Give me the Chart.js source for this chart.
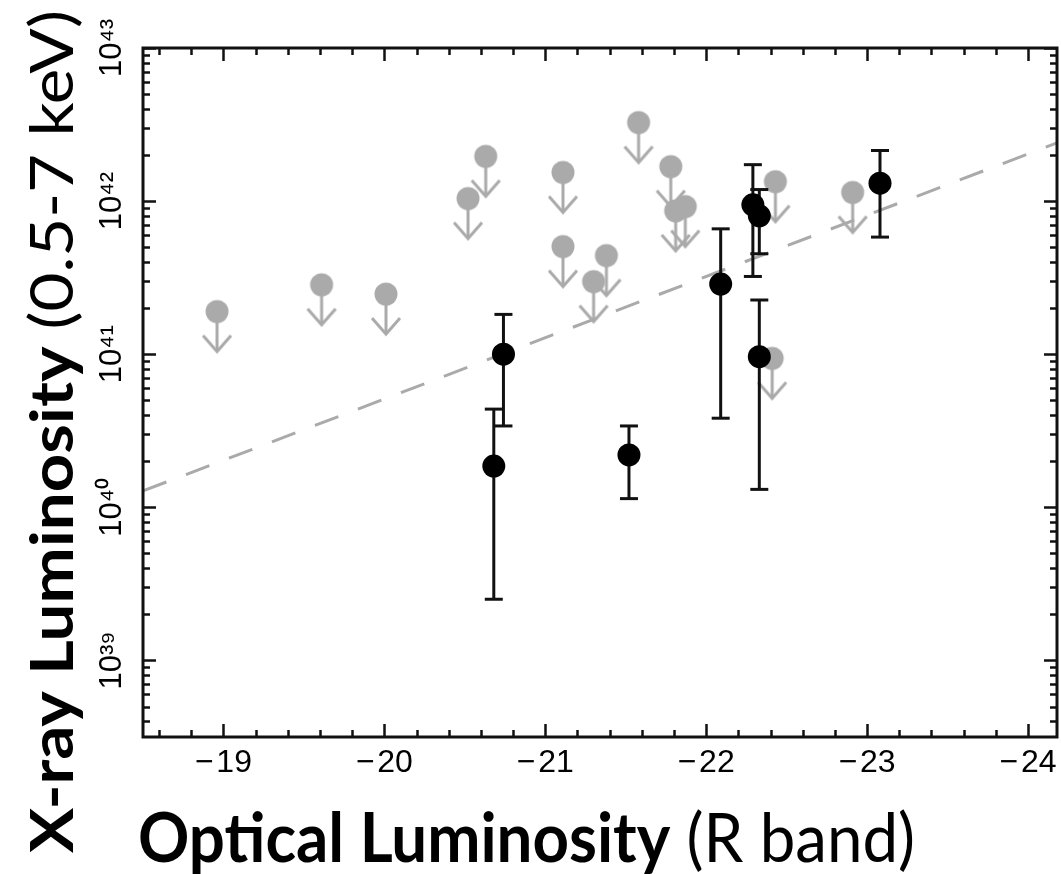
<!DOCTYPE html>
<html><head><meta charset="utf-8">
<script src="https://cdn.jsdelivr.net/npm/chart.js@4.4.1/dist/chart.umd.min.js"></script>
<style>html,body{margin:0;padding:0;background:#fff;}canvas{display:block;}</style>
</head><body>
<canvas id="c" width="1061" height="874"></canvas>
<script>
// ---- data ----
// upper limits (grey circles with arrows)
const limitMag = [-18.96, -19.61, -20.01, -20.52, -20.63, -21.11, -21.11, -21.30, -21.38, -21.58, -21.78, -21.81, -21.87, -22.41, -22.43, -22.91];
const limitLx  = [1.90e41, 2.84e41, 2.47e41, 1.04e42, 1.96e42, 1.54e42, 5.05e41, 2.98e41, 4.41e41, 3.26e42, 1.68e42, 8.64e41, 9.22e41, 9.4e40, 1.34e42, 1.14e42];
// detections (black circles with error bars)
const detMag    = [-20.68, -20.74, -21.52, -22.09, -22.29, -22.33, -22.33, -23.08];
const detLx     = [1.86e40, 1.00e41, 2.20e40, 2.87e41, 9.46e41, 8.02e41, 9.64e40, 1.31e42];
const detLxHigh = [4.38e40, 1.82e41, 3.40e40, 6.59e41, 1.73e42, 1.19e42, 2.26e41, 2.14e42];
const detLxLow  = [2.51e39, 3.40e40, 1.14e40, 3.82e40, 3.22e41, 4.53e41, 1.31e40, 5.82e41];
// dashed relation
const fitMag = [-18.5, -24.18];
const fitLx  = [1.28e40, 2.40e42];
// axes
const xTickValues = [-19, -20, -21, -22, -23, -24];
const yTickExponents = [39, 40, 41, 42, 43];
const xRange = [-24.18, -18.5];
const yRange = [3.162e38, 1e43];

const GREY = '#aaaaaa';
const BLACK = '#000000';

// grey marker: circle with downward arrow (symmetric canvas so circle is at the data point)
function makeLimitMarker() {
  const c = document.createElement('canvas');
  c.width = 34; c.height = 90;
  const g = c.getContext('2d');
  const cx = 17, cy = 45;
  g.strokeStyle = GREY; g.fillStyle = GREY; g.lineWidth = 3;
  g.beginPath(); g.moveTo(cx, cy); g.lineTo(cx, cy + 40); g.stroke();
  g.beginPath(); g.moveTo(cx - 14, cy + 24); g.lineTo(cx, cy + 40); g.lineTo(cx + 14, cy + 24); g.stroke();
  g.beginPath(); g.arc(cx, cy, 11.5, 0, Math.PI * 2); g.fill();
  return c;
}
const limitMarker = makeLimitMarker();

const SUP = {'0':'\u2070','1':'\u00B9','2':'\u00B2','3':'\u00B3','4':'\u2074','5':'\u2075','6':'\u2076','7':'\u2077','8':'\u2078','9':'\u2079'};
const sup = n => String(n).split('').map(ch => SUP[ch]).join('');

const datasets = [];
datasets.push({
  label: 'detections',
  data: detMag.map((m, i) => ({x: m, y: detLx[i]})),
  pointRadius: 11.5, pointBackgroundColor: BLACK, pointBorderWidth: 0, pointStyle: 'circle'
});
datasets.push({
  label: 'caps',
  data: detMag.flatMap((m, i) => [{x: m, y: detLxLow[i]}, {x: m, y: detLxHigh[i]}]),
  pointStyle: 'line', pointRadius: 9, pointBorderWidth: 3, pointBorderColor: '#111'
});
detMag.forEach((m, i) => {
  datasets.push({
    type: 'line', label: 'err' + i,
    data: [{x: m, y: detLxLow[i]}, {x: m, y: detLxHigh[i]}],
    showLine: true, borderColor: '#111', borderWidth: 3, pointRadius: 0, fill: false
  });
});
datasets.push({
  label: 'limits',
  data: limitMag.map((m, i) => ({x: m, y: limitLx[i]})),
  pointStyle: limitMarker, pointRadius: 12
});
datasets.push({
  type: 'line', label: 'relation',
  data: fitMag.map((m, i) => ({x: m, y: fitLx[i]})),
  showLine: true, borderColor: GREY, borderWidth: 3, borderDash: [25, 21], pointRadius: 0, fill: false
});

function drawParts(ctx, parts, targetWidth) {
  const widths = parts.map(p => { ctx.font = p.font; return ctx.measureText(p.text).width; });
  const total = widths.reduce((a, b) => a + b, 0);
  ctx.scale(targetWidth / total, 1);
  let x = 0;
  parts.forEach((p, i) => { ctx.font = p.font; ctx.fillText(p.text, x, 0); x += widths[i]; });
}

const framePlugin = {
  id: 'frame',
  afterDraw(chart) {
    const ctx = chart.ctx;
    const a = chart.chartArea;
    const xs = chart.scales.x, ys = chart.scales.y;
    ctx.save();
    ctx.strokeStyle = '#111';
    ctx.lineWidth = 2.5;
    ctx.beginPath();
    // x ticks every 0.2 mag
    const t0 = Math.ceil(-xs.max * 5 - 1e-6), t1 = Math.floor(-xs.min * 5 + 1e-6);
    for (let t = t0; t <= t1; t++) {
      const v = -t / 5;
      const px = Math.round(xs.getPixelForValue(v)) + 0.5;
      const len = (t % 5 === 0) ? 13 : 7;
      ctx.moveTo(px, a.bottom); ctx.lineTo(px, a.bottom - len);
      ctx.moveTo(px, a.top); ctx.lineTo(px, a.top + len);
    }
    // y ticks 1..9 x 10^n
    const e0 = Math.floor(Math.log10(ys.min)), e1 = Math.ceil(Math.log10(ys.max));
    for (let e = e0; e <= e1; e++) {
      for (let m = 1; m <= 9; m++) {
        const v = m * Math.pow(10, e);
        if (v < ys.min * 0.999 || v > ys.max * 1.001) continue;
        const py = Math.round(ys.getPixelForValue(v)) + 0.5;
        const len = (m === 1) ? 13 : 7;
        ctx.moveTo(a.left, py); ctx.lineTo(a.left + len, py);
        ctx.moveTo(a.right, py); ctx.lineTo(a.right - len, py);
      }
    }
    ctx.stroke();
    ctx.lineWidth = 3;
    ctx.strokeRect(a.left, a.top, a.right - a.left, a.bottom - a.top);

    // axis titles
    ctx.fillStyle = '#000';
    ctx.textBaseline = 'alphabetic';
    ctx.textAlign = 'left';
    ctx.save();
    ctx.translate(138, 862);
    drawParts(ctx, [
      {text: 'Optical Luminosity', font: 'bold 68px Lato'},
      {text: ' (R band)', font: '68px Lato'}
    ], 777);
    ctx.restore();
    ctx.save();
    ctx.translate(73, 853);
    ctx.rotate(-Math.PI / 2);
    drawParts(ctx, [
      {text: 'X-ray Luminosity', font: 'bold 60px Lato'},
      {text: ' (0.5-7 keV)', font: '60px Lato'}
    ], 843);
    ctx.restore();
    ctx.restore();
  }
};

new Chart(document.getElementById('c'), {
  type: 'scatter',
  data: {datasets},
  options: {
    responsive: false,
    animation: false,
    devicePixelRatio: 1,
    layout: {autoPadding: false, padding: {top: 48, right: 4, left: 0, bottom: 0}},
    plugins: {legend: {display: false}, tooltip: {enabled: false}},
    scales: {
      x: {
        type: 'linear', reverse: true, min: xRange[0], max: xRange[1],
        grid: {display: false, drawTicks: false},
        border: {display: false},
        afterBuildTicks: s => { s.ticks = xTickValues.map(v => ({value: v})); },
        afterFit: s => { s.height = 137; s.paddingLeft = 0; s.paddingRight = 0; },
        ticks: {
          autoSkip: false, maxRotation: 0, minRotation: 0, padding: 7,
          color: '#000', font: {family: 'Liberation Sans', size: 32},
          callback: v => '\u2212\u200A' + Math.abs(v)
        }
      },
      y: {
        type: 'logarithmic', min: yRange[0], max: yRange[1],
        grid: {display: false, drawTicks: false},
        border: {display: false},
        afterBuildTicks: s => { s.ticks = yTickExponents.map(e => ({value: Math.pow(10, e)})); },
        afterFit: s => { s.width = 143; s.paddingTop = 0; s.paddingBottom = 0; },
        ticks: {
          autoSkip: false, minRotation: 90, maxRotation: 90, crossAlign: 'center', padding: 1,
          color: '#000', font: {family: 'Liberation Sans', size: 31},
          callback: v => '10' + sup(Math.round(Math.log10(v)))
        }
      }
    }
  },
  plugins: [framePlugin]
});
</script>
</body></html>
